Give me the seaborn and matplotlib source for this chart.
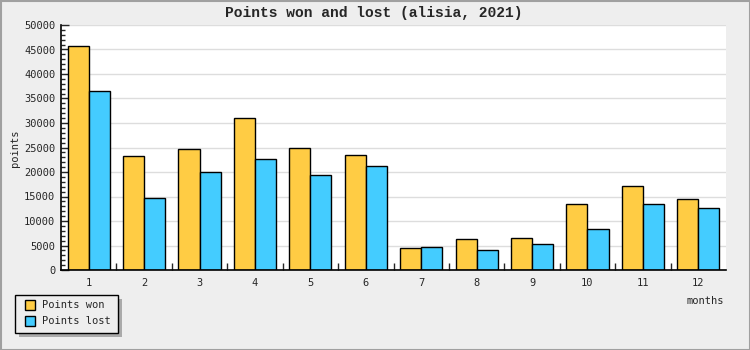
import matplotlib
matplotlib.use("Agg")
import matplotlib.pyplot as plt
import seaborn as sns
import pandas as pd
import numpy as np
from matplotlib.patches import Rectangle, Patch
from matplotlib.ticker import MultipleLocator, FixedLocator

months = ["1", "2", "3", "4", "5", "6", "7", "8", "9", "10", "11", "12"]
points_won = [45700, 23300, 24700, 31000, 24900, 23400, 4450, 6250, 6450, 13400, 17100, 14450]
points_lost = [36500, 14700, 20000, 22600, 19350, 21200, 4650, 4100, 5250, 8300, 13450, 12600]
series_names = ["Points won", "Points lost"]
colors = ["#FFCC44", "#44CCFF"]

df = pd.DataFrame({
    "month": months * 2,
    "points": points_won + points_lost,
    "series": [series_names[0]] * len(months) + [series_names[1]] * len(months),
})

sns.set_style("white")
mono = ["DejaVu Sans Mono"]
plt.rcParams["font.family"] = mono

fig = plt.figure(figsize=(7.5, 3.5), dpi=100, facecolor="#EEEEEE")
ax = fig.add_axes([61 / 750, 1 - 270 / 350, (726 - 61) / 750, (270 - 25) / 350])
ax.set_facecolor("white")

sns.barplot(data=df, x="month", y="points", hue="series", order=months,
            hue_order=series_names, palette=colors, width=0.76,
            edgecolor="black", linewidth=1.0, saturation=1, ax=ax, legend=False, zorder=3)

ax.set_ylim(0, 50000)
ax.set_xlim(-0.5, len(months) - 0.5)
ax.yaxis.set_major_locator(MultipleLocator(5000))
ax.yaxis.set_minor_locator(MultipleLocator(1000))
ax.grid(axis="y", which="major", color="#DDDDDD", linewidth=1.0, zorder=0)
ax.set_axisbelow(True)

for s in ["top", "right"]:
    ax.spines[s].set_visible(False)
for s in ["left", "bottom"]:
    ax.spines[s].set_color("black")
    ax.spines[s].set_linewidth(1.2)
    ax.spines[s].set_zorder(5)

ax.tick_params(axis="y", which="major", direction="in", length=6, width=1, labelsize=7.5, pad=4, left=True)
ax.tick_params(axis="y", which="minor", direction="in", length=3, width=1, left=True)
ax.tick_params(axis="x", which="major", length=0, labelsize=7.5, pad=6, bottom=True)
ax.xaxis.set_minor_locator(FixedLocator(np.arange(0.5, len(months) - 0.5, 1.0)))
ax.tick_params(axis="x", which="minor", direction="in", length=5, width=1, bottom=True)

ax.set_xlabel("")
ax.set_ylabel("")
fig.text(15 / 750, 1 - 148 / 350, "points", rotation=90, ha="center", va="center", fontsize=7.5, family=mono)
fig.text(724 / 750, 1 - 301 / 350, "months", ha="right", va="center", fontsize=7.5, family=mono)
fig.text(374 / 750, 1 - 13 / 350, "Points won and lost (alisia, 2021)", ha="center", va="center",
         fontsize=10.5, fontweight="bold", family=["Liberation Mono", "DejaVu Sans Mono"])

# legend with shadow
lx0, ly0, lx1, ly1 = 15, 295, 118, 333
fig.add_artist(Rectangle(((lx0 + 4) / 750, 1 - (ly1 + 4) / 350), (lx1 - lx0) / 750, (ly1 - ly0) / 350,
                         transform=fig.transFigure, facecolor="#AAAAAA", edgecolor="none", zorder=1))
fig.add_artist(Rectangle((lx0 / 750, 1 - ly1 / 350), (lx1 - lx0) / 750, (ly1 - ly0) / 350,
                         transform=fig.transFigure, facecolor="#EEEEEE", edgecolor="black", linewidth=1.0, zorder=2))
for i, (name, col) in enumerate(zip(series_names, colors)):
    yc = 305 + i * 16
    fig.add_artist(Rectangle((25 / 750, 1 - (yc + 5) / 350), 10 / 750, 10 / 350,
                             transform=fig.transFigure, facecolor=col, edgecolor="black", linewidth=1.0, zorder=3))
    fig.text(42 / 750, 1 - yc / 350, name, ha="left", va="center", fontsize=7.5, family=mono, zorder=3)

# figure border
fig.add_artist(Rectangle((0.5 / 750, 0.5 / 350), 749 / 750, 349 / 350, transform=fig.transFigure,
                         facecolor="none", edgecolor="#A0A0A0", linewidth=1.5, zorder=10))

fig.savefig("out.png", dpi=100, facecolor=fig.get_facecolor())
